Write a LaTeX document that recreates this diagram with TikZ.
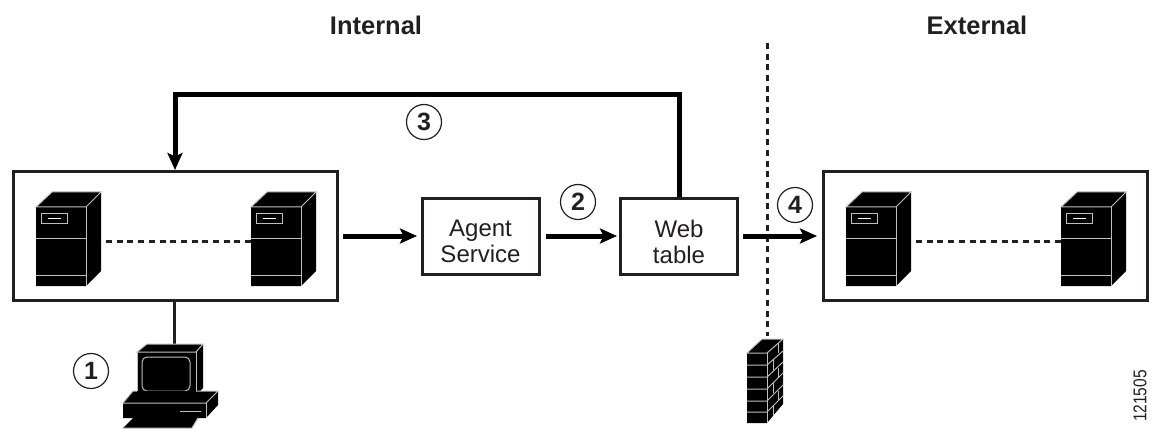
\documentclass[tikz,border=0pt]{standalone}
\usepackage{fontspec}
\setmainfont{Liberation Sans}
\usetikzlibrary{arrows.meta}
\definecolor{ink}{HTML}{231F20}
\tikzset{
  x=1pt,y=-1pt,
  boxed/.style={draw=ink,line width=3pt,fill=white,inner sep=0pt},
  group/.style={boxed,minimum width=324pt,minimum height=128pt},
  proc/.style={boxed,minimum width=117pt,minimum height=75pt},
  proctext/.style={align=center,inner sep=0pt,font=\fontsize{24}{26}\selectfont,text=ink,yshift=-5pt},
  flow/.style={line width=5pt,draw=black,-{Stealth[length=17pt,width=15pt,inset=3.5pt]}},
  num/.style={circle,draw=ink,line width=1.2pt,minimum size=35pt,inner sep=0pt,font=\bfseries\fontsize{25}{25}\selectfont,text=ink},
  zone/.style={font=\bfseries\fontsize{25.5}{29}\selectfont,text=ink,inner sep=0pt},
  link/.style={line width=3pt,draw=ink,dash pattern=on 6pt off 4.7pt},
  wire/.style={line width=3pt,draw=ink},
  hl/.style={draw=white!75!black,line width=1pt},
  pics/server/.style={code={
    \fill[black] (0,0) -- (16,-15) -- (65,-15) -- (65,64) -- (50,79) -- (0,79) -- cycle;
    \draw[hl] (0,0) -- (16,-15) -- (65,-15) -- (50,0) -- cycle;
    \draw[hl] (50,0) -- (50,79);
    \draw[hl] (0,31) -- (50,31);
    \draw[hl] (0,68) -- (50,68);
    \draw[hl] (5.5,7) rectangle (31,17);
    \draw[white,line width=1pt] (12,12) -- (25,12);
  }}
}
\begin{document}
\begin{tikzpicture}
\useasboundingbox (0,0) rectangle (1155,430);
\fill[white] (0,0) rectangle (1155,430);

\node[zone] (internal) at (376,25) {Internal};
\node[zone] (external) at (977,25) {External};

% firewall line
\coordinate (fwtop) at (767,43);
\coordinate (fwbot) at (767,336);
\draw[link] (fwtop) -- (fwbot);

% groups
\node[group] (left) at (175,236) {};
\node[group] (right) at (985,236) {};
\node[proc,label={[proctext]center:Agent\\Service}] (agent) at (480.5,236.5) {};
\node[proc,label={[proctext]center:Web\\table}] (web) at (679,236.5) {};

% servers, left group
\pic at (36,207) {server};
\pic at (251,207) {server};
\coordinate (l1) at (106,241);
\coordinate (l2) at (251,241);
\draw[link] (l1) -- (l2);
% servers, right group
\pic at (846,207) {server};
\pic at (1061,207) {server};
\coordinate (r1) at (916,241);
\coordinate (r2) at (1061,241);
\draw[link] (r1) -- (r2);

% connectors
\coordinate (a0) at (343,236);
\coordinate (a1) at (417,236);
\draw[flow] (a0) -- (a1);
\coordinate (b0) at (546,236);
\coordinate (b1) at (617,236);
\draw[flow] (b0) -- (b1);
\coordinate (c0) at (743,236);
\coordinate (c1) at (817,236);
\draw[flow] (c0) -- (c1);
\coordinate (d1) at (679,95);
\coordinate (d2) at (175,95);
\coordinate (d3) at (175,170);
\draw[flow,line join=miter] (web.north -| d1) -- (d1) -- (d2) -- (d3);

% numbers
\node[num] (n3) at (424,122) {3};
\node[num] (n2) at (578,202) {2};
\node[num] (n4) at (795,205) {4};
\node[num] (n1) at (91,371) {1};

% computer
\coordinate (pc) at (174,344);
\draw[wire] (left.south -| pc) -- (pc);
\fill[black] (137,352) -- (147,344) -- (203,344) -- (203,388) -- (196,395) -- (137,395) -- cycle;
\draw[hl] (137,352) -- (147,344) -- (203,344) -- (196,352) -- cycle;
\draw[hl] (196,352) -- (196,395);
\draw[hl] (137,352) -- (137,395);
\draw[hl,rounded corners=5pt] (142,357) rectangle (190,391);
\fill[black] (123,403) -- (133,391) -- (218,391) -- (218,405) -- (206,418) -- (123,418) -- cycle;
\draw[hl] (123,403) -- (133,391) -- (137,391);
\draw[hl] (196,391) -- (218,391) -- (206,403) -- (123,403);
\draw[hl] (206,403) -- (206,418);
\draw[hl] (180,411) -- (201,411);
\fill[black] (133,418) -- (198,418) -- (192,428) -- (123,428) -- cycle;
\draw[hl] (123,428) -- (192,428) -- (198,418);

% wall
\fill[black] (747,353) -- (762,339) -- (783,339) -- (783,404) -- (767,423) -- (747,423) -- cycle;
\draw[hl] (747,353) -- (762,339) -- (783,339) -- (767,353) -- cycle;
\draw[hl] (767,353) -- (767,423);
\foreach \yy/\uu in {365/351,377/362,389/373,401/385,412/396}{
  \draw[hl] (747,\yy) -- (767,\yy) -- (783,\uu);
}
\foreach \xx/\yy in {778/343,773/360,778/368,773/383,778/391,773/406}{
  \draw[white!75!black,line width=.8pt] (\xx,\yy) -- ++(0,10);
}

\node[rotate=90,xscale=.84,inner sep=0pt,font=\fontsize{18.5}{18.5}\selectfont,text=ink] (id) at (1140,396) {121505};
\end{tikzpicture}
\end{document}
